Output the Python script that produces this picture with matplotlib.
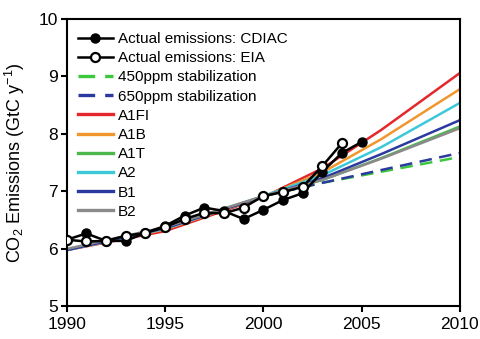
import matplotlib
matplotlib.use('Agg')
import matplotlib.pyplot as plt

plt.rcParams['font.family'] = ['Liberation Sans', 'DejaVu Sans']
plt.rcParams['mathtext.default'] = 'regular'

######### DATA ##############
years_obs = list(range(1990, 2006))
cdiac = [6.16, 6.27, 6.14, 6.14, 6.28, 6.40, 6.58, 6.72, 6.66, 6.52,
         6.68, 6.85, 6.97, 7.34, 7.67, 7.86]
eia = [6.16, 6.13, 6.14, 6.23, 6.28, 6.38, 6.52, 6.63, 6.62, 6.72,
       6.92, 6.99, 7.08, 7.44, 7.84]
years_eia = list(range(1990, 2005))

years_scen = [1990, 1995, 2000, 2003, 2006, 2010]
a1fi = [5.98, 6.31, 6.90, 7.40, 8.07, 9.06]
a1b = [5.98, 6.34, 6.91, 7.33, 7.91, 8.78]
a2 = [5.98, 6.35, 6.92, 7.28, 7.77, 8.54]
b1 = [5.98, 6.36, 6.91, 7.23, 7.65, 8.24]
a1t = [5.99, 6.37, 6.91, 7.20, 7.58, 8.13]
b2 = [6.00, 6.38, 6.92, 7.20, 7.57, 8.10]

years_stab = [2000, 2003, 2010]
stab450 = [6.92, 7.15, 7.60]
stab650 = [6.92, 7.15, 7.67]
#############################

fig = plt.figure(figsize=(4.8, 3.39), dpi=100)
ax = fig.add_axes([0.139, 0.096, 0.819, 0.848])

lw = 1.8
dash = (0, (5, 3))
ax.plot(years_stab, stab450, color='#3cc83c', lw=lw, ls=dash, label='450ppm stabilization', zorder=2)
ax.plot(years_stab, stab650, color='#2b3a9e', lw=lw, ls=dash, label='650ppm stabilization', zorder=2)
ax.plot(years_scen, a1fi, color='#e3272a', lw=lw, label='A1FI', zorder=2)
ax.plot(years_scen, a1b, color='#f0962d', lw=lw, label='A1B', zorder=2)
ax.plot(years_scen, a1t, color='#4cb84c', lw=lw, label='A1T', zorder=2)
ax.plot(years_scen, a2, color='#3cc8d8', lw=lw, label='A2', zorder=2)
ax.plot(years_scen, b1, color='#2b3a9e', lw=lw, label='B1', zorder=2)
ax.plot(years_scen, b2, color='#8a8a8a', lw=lw, label='B2', zorder=2)

ax.plot(years_obs, cdiac, color='black', lw=1.8, marker='o', ms=6.5,
        mfc='black', mec='black', label='Actual emissions: CDIAC', zorder=3)
ax.plot(years_eia, eia, color='black', lw=1.8, marker='o', ms=6.5,
        mfc='white', mec='black', mew=1.6, label='Actual emissions: EIA', zorder=4)

ax.set_xlim(1990, 2010)
ax.set_ylim(5, 10)
ax.set_xticks([1990, 1995, 2000, 2005, 2010])
ax.set_yticks([5, 6, 7, 8, 9, 10])
ax.tick_params(direction='out', length=4.5, width=1.5, labelsize=12.5, pad=3)
ax.tick_params(axis='y', pad=2)
for s in ax.spines.values():
    s.set_linewidth(1.5)
ax.set_ylabel(r'CO$_2$ Emissions (GtC y$^{-1}$)', fontsize=13, labelpad=8)

handles, labels = ax.get_legend_handles_labels()
order = [8, 9, 0, 1, 2, 3, 4, 5, 6, 7]
leg = ax.legend([handles[i] for i in order], [labels[i] for i in order],
                loc='upper left', bbox_to_anchor=(-0.005, 1.0), frameon=False,
                fontsize=11, handlelength=2.3, handletextpad=0.35,
                labelspacing=0.34, borderaxespad=0.45)
for h in leg.get_lines()[2:]:
    h.set_linewidth(2.4)

fig.savefig('out.png', dpi=100)
